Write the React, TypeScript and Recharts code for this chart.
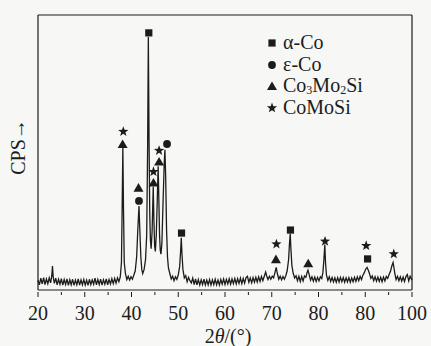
import { ComposedChart, Line, Scatter, XAxis, YAxis, ReferenceLine, Label } from "recharts";

const FONT = '"Liberation Serif", "Times New Roman", serif';
const INK = "#1c1c1c";

// XRD scan: [2θ (°), intensity (0-100 of plot height)]
const scanLow: [number, number][] = [
  [20.0, 3.6], [20.3, 1.9], [20.6, 4.3], [20.9, 2.2], [21.2, 4.5], [21.5, 2.0], [21.8, 4.0], [22.1, 2.3],
  [22.4, 4.4], [22.7, 2.6], [22.95, 5.2], [23.1, 8.7], [23.25, 4.8], [23.5, 2.4], [23.8, 4.3], [24.1, 1.9],
  [24.4, 3.9], [24.7, 2.1], [25.0, 4.1], [25.3, 1.8], [25.6, 3.8], [25.9, 2.0], [26.2, 4.0], [26.5, 1.7],
  [26.8, 3.7], [27.1, 1.9], [27.4, 3.9], [27.7, 1.7], [28.0, 3.6], [28.3, 1.9], [28.6, 4.0], [28.9, 1.8],
  [29.2, 3.7], [29.5, 1.9], [29.8, 3.8], [30.1, 1.8], [30.4, 3.6], [30.7, 1.7], [31.0, 3.9], [31.3, 2.0],
  [31.6, 3.7], [31.9, 2.1], [32.2, 4.3], [32.5, 1.9], [32.8, 3.8], [33.1, 2.0], [33.4, 3.9], [33.7, 1.8],
  [34.0, 3.7], [34.3, 2.1], [34.6, 4.0], [34.9, 1.9], [35.2, 3.8], [35.5, 2.2], [35.8, 4.1], [36.1, 2.3],
  [36.4, 4.2], [36.7, 2.5], [37.0, 4.4], [37.3, 3.0], [37.6, 4.8],
];

const scanMain: [number, number][] = [
  [37.85, 10], [38.0, 30], [38.15, 51.6], [38.3, 28], [38.45, 10], [38.7, 6.0], [39.0, 3.8], [39.3, 5.0],
  [39.6, 3.6], [39.9, 4.8], [40.2, 3.9], [40.5, 5.4], [40.8, 7.0], [41.1, 12], [41.35, 22], [41.6, 30.5],
  [41.8, 21], [42.0, 12], [42.2, 7.5], [42.4, 6.0], [42.7, 7.5], [43.0, 11], [43.25, 20], [43.45, 52],
  [43.6, 92], [43.75, 55], [43.9, 28], [44.05, 18], [44.2, 15], [44.4, 21], [44.55, 31], [44.65, 37.5],
  [44.8, 25], [44.95, 16], [45.1, 14], [45.3, 20], [45.5, 32], [45.7, 45], [45.85, 33], [46.0, 20],
  [46.15, 14.5], [46.3, 13], [46.5, 17], [46.75, 32], [47.0, 46], [47.15, 51], [47.3, 42], [47.5, 22],
  [47.7, 12], [47.9, 8], [48.2, 6], [48.5, 4.0], [48.8, 5.0], [49.1, 3.4], [49.4, 4.8], [49.7, 3.9],
  [50.0, 5.5], [50.3, 8.5], [50.5, 14], [50.65, 19], [50.8, 13], [51.0, 7.5], [51.3, 4.4], [51.6, 5.2],
  [51.9, 3.0], [52.2, 4.6], [52.5, 3.4],
];

const scanHigh: [number, number][] = [
  [52.8, 2.6], [53.1, 4.3], [53.4, 2.0], [53.7, 4.0], [54.0, 1.9], [54.3, 3.8], [54.6, 1.8], [54.9, 3.7],
  [55.2, 2.0], [55.5, 3.9], [55.8, 1.8], [56.1, 3.6], [56.4, 1.9], [56.7, 3.8], [57.0, 1.8], [57.3, 3.7],
  [57.6, 2.0], [57.9, 3.9], [58.2, 1.9], [58.5, 3.6], [58.8, 1.8], [59.1, 3.8], [59.4, 2.1], [59.7, 4.0],
  [60.0, 2.0], [60.3, 3.9], [60.6, 2.2], [60.9, 4.1], [61.2, 2.1], [61.5, 4.0], [61.8, 2.3], [62.1, 4.2],
  [62.4, 2.2], [62.7, 4.1], [63.0, 2.4], [63.3, 4.3], [63.6, 2.3], [63.9, 4.2], [64.2, 2.5], [64.5, 4.5],
  [64.8, 5.0], [65.1, 2.8], [65.4, 4.4], [65.7, 2.6], [66.0, 4.5], [66.3, 2.8], [66.6, 4.6], [66.9, 2.9],
  [67.2, 4.8], [67.5, 3.1], [67.8, 4.9], [68.1, 3.4], [68.4, 5.0], [68.7, 6.5], [68.9, 5.2], [69.2, 3.8],
  [69.5, 5.0], [69.8, 3.9], [70.1, 5.0], [70.4, 4.4], [70.7, 6.5], [70.95, 8.2], [71.2, 6.0], [71.5, 3.9],
  [71.8, 5.0], [72.1, 3.7], [72.4, 4.9], [72.7, 3.9], [73.0, 5.2], [73.3, 7.0], [73.6, 11], [73.8, 17],
  [73.95, 20.5], [74.1, 15], [74.3, 9], [74.6, 6.0], [74.9, 4.4], [75.2, 5.2], [75.5, 3.4], [75.8, 5.0],
  [76.1, 3.1], [76.4, 4.9], [76.7, 3.3], [77.0, 5.1], [77.3, 4.6], [77.55, 6.3], [77.75, 7.2], [78.0, 5.6],
  [78.3, 3.6], [78.6, 4.8], [78.9, 3.2], [79.2, 4.7], [79.5, 3.1], [79.8, 4.6], [80.1, 3.3], [80.4, 4.8],
  [80.7, 4.2], [80.95, 6.5], [81.15, 11], [81.35, 16.5], [81.5, 10], [81.7, 5.5], [82.0, 3.5], [82.3, 4.8],
  [82.6, 3.1], [82.9, 4.5], [83.2, 2.9], [83.5, 4.4], [83.8, 2.8], [84.1, 4.5], [84.4, 2.9], [84.7, 4.6],
  [85.0, 3.0], [85.3, 4.5], [85.6, 2.8], [85.9, 4.4], [86.2, 2.9], [86.5, 4.5], [86.8, 2.8], [87.1, 4.4],
  [87.4, 3.0], [87.7, 4.6], [88.0, 3.1], [88.3, 4.8], [88.6, 3.4], [88.9, 5.0], [89.2, 3.8], [89.5, 5.4],
  [89.8, 6.3], [90.1, 7.6], [90.4, 8.2], [90.65, 7.2], [90.9, 6.0], [91.2, 4.2], [91.5, 5.1], [91.8, 3.4],
  [92.1, 4.8], [92.4, 3.2], [92.7, 4.7], [93.0, 3.1], [93.3, 4.6], [93.6, 3.0], [93.9, 4.7], [94.2, 3.3],
  [94.5, 4.9], [94.8, 4.2], [95.1, 5.6], [95.4, 6.8], [95.7, 8.8], [95.95, 10], [96.15, 8.0], [96.35, 5.8],
  [96.6, 3.8], [96.9, 5.0], [97.2, 3.4], [97.5, 4.8], [97.8, 3.2], [98.1, 4.7], [98.4, 3.1], [98.7, 4.9],
  [99.0, 5.6], [99.3, 3.3], [99.6, 5.0], [100.0, 3.6],
];

// phase markers [2θ, height] placed above the peaks
const alphaCo: [number, number][] = [[43.7, 93.5], [50.7, 20.7], [74.0, 21.8], [90.5, 11.3]];
const epsilonCo: [number, number][] = [[41.6, 32.4], [47.6, 53.1]];
const co3Mo2Si: [number, number][] = [
  [38.1, 53.1], [41.5, 37.2], [44.7, 39.1], [45.9, 46.7], [70.9, 11.2], [77.8, 9.7],
];
const coMoSi: [number, number][] = [
  [38.25, 57.6], [44.7, 43.0], [45.9, 50.7], [71.0, 16.7], [81.4, 17.7], [90.2, 16.1], [96.1, 13.1],
];

const phaseNames = ["α-Co", "ε-Co", "Co3Mo2Si", "CoMoSi"];

const majorTicks = [20, 30, 40, 50, 60, 70, 80, 90, 100];
const tickLabels = ["20", "30", "40", "50", "60", "70", "80", "80", "100"];
const minorTicks = [25, 35, 45, 55, 65, 75, 85, 95];

const toPts = (arr: [number, number][]) => arr.map(([x, y]) => ({ x, y }));
const scan = toPts([...scanLow, ...scanMain, ...scanHigh]);
const allTicks = [...majorTicks, ...minorTicks].sort((a, b) => a - b);

// marker glyphs
const SquareMark = ({ cx, cy }: any) => (
  <rect x={cx - 3.6} y={cy - 3.6} width={7.2} height={7.2} fill={INK} />
);
const DotMark = ({ cx, cy }: any) => <circle cx={cx} cy={cy} r={3.9} fill={INK} />;
const TriMark = ({ cx, cy }: any) => (
  <polygon points={`${cx},${cy - 4.6} ${cx + 5},${cy + 4} ${cx - 5},${cy + 4}`} fill={INK} />
);
const StarMark = ({ cx, cy }: any) => {
  const pts: string[] = [];
  for (let i = 0; i < 10; i++) {
    const r = i % 2 ? 2.2 : 5.4;
    const a = ((-90 + i * 36) * Math.PI) / 180;
    pts.push(`${cx + r * Math.cos(a)},${cy + r * Math.sin(a)}`);
  }
  return <polygon points={pts.join(" ")} fill={INK} />;
};
const marks = [SquareMark, DotMark, TriMark, StarMark];

function AxisTick({ x, y, payload }: any) {
  const i = majorTicks.indexOf(payload.value);
  return (
    <g>
      <line x1={x} x2={x} y1={y} y2={y + (i >= 0 ? 5 : 3)} stroke={INK} />
      {i >= 0 && (
        <text x={x} y={y + 28} textAnchor="middle" fontFamily={FONT} fontSize={20} fill={INK}>
          {tickLabels[i]}
        </text>
      )}
    </g>
  );
}

function withSubs(name: string) {
  return name.split(/(\d)/).map((part, k) =>
    /\d/.test(part) ? (
      <span key={k} style={{ fontSize: 12, position: "relative", top: 2, lineHeight: 0 }}>
        {part}
      </span>
    ) : (
      <span key={k}>{part}</span>
    )
  );
}

export default function App() {
  return (
    <div
      style={{
        position: "absolute",
        left: 0,
        top: 0,
        width: 431,
        height: 346,
        background: "#f7f7f5",
        fontFamily: FONT,
      }}
    >
      <ComposedChart width={431} height={346} margin={{ top: 15, right: 19, bottom: 0, left: 0 }}>
        <XAxis
          type="number"
          dataKey="x"
          domain={[20, 100]}
          ticks={allTicks}
          interval={0}
          tick={<AxisTick />}
          tickLine={false}
          tickSize={0}
          height={56}
          axisLine={{ stroke: INK, strokeWidth: 1.2 }}
        >
          <Label
            content={({ viewBox }: any) => (
              <text
                x={viewBox.x + viewBox.width / 2 + 3}
                y={343}
                textAnchor="middle"
                fontFamily={FONT}
                fontSize={20}
                fill={INK}
              >
                2<tspan fontStyle="italic">θ</tspan>/(°)
              </text>
            )}
          />
        </XAxis>
        <YAxis
          type="number"
          dataKey="y"
          domain={[0, 100]}
          width={38}
          tick={false}
          tickLine={false}
          axisLine={{ stroke: INK, strokeWidth: 1.2 }}
        >
          <Label
            content={() => (
              <text
                x={25}
                y={147}
                transform="rotate(-90 25 147)"
                textAnchor="middle"
                fontFamily={FONT}
                fontSize={20}
                fill={INK}
              >
                CPS→
              </text>
            )}
          />
        </YAxis>
        <ReferenceLine y={100} stroke={INK} strokeWidth={1.2} />
        <ReferenceLine x={100} stroke={INK} strokeWidth={1.2} />
        <Line
          data={scan}
          dataKey="y"
          type="linear"
          stroke={INK}
          strokeWidth={1.3}
          dot={false}
          isAnimationActive={false}
        />
        <Scatter data={toPts(alphaCo)} shape={SquareMark} isAnimationActive={false} />
        <Scatter data={toPts(epsilonCo)} shape={DotMark} isAnimationActive={false} />
        <Scatter data={toPts(co3Mo2Si)} shape={TriMark} isAnimationActive={false} />
        <Scatter data={toPts(coMoSi)} shape={StarMark} isAnimationActive={false} />
      </ComposedChart>

      <div
        style={{
          position: "absolute",
          left: 265,
          top: 32,
          fontSize: 20,
          lineHeight: "21.7px",
          color: INK,
        }}
      >
        {phaseNames.map((name, i) => {
          const Mark = marks[i];
          return (
            <div key={name} style={{ display: "flex", alignItems: "center", height: 21.7 }}>
              <svg width={14} height={14} style={{ marginRight: 4 }}>
                <Mark cx={7} cy={7} />
              </svg>
              <span style={{ whiteSpace: "nowrap" }}>{withSubs(name)}</span>
            </div>
          );
        })}
      </div>
    </div>
  );
}
